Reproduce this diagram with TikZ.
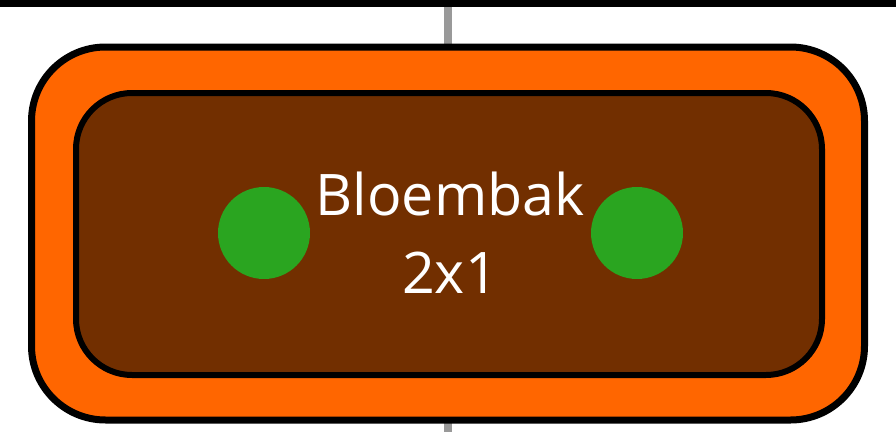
\documentclass[tikz,border=0pt]{standalone}
\usepackage{fontspec}
\setmainfont{Open Sans}
\usetikzlibrary{positioning}

\definecolor{bakorange}{HTML}{FF6600}
\definecolor{bakbrown}{HTML}{722F00}
\definecolor{plantgreen}{HTML}{2AA520}
\definecolor{pipegray}{HTML}{999999}

\begin{document}
\begin{tikzpicture}[
  x=0.75pt, y=-0.75pt,
  rim/.style={draw=black, line width=7*0.75pt, rounded corners=#1},
  plant/.style={circle, fill=plantgreen, minimum size=92*0.75pt, inner sep=0pt},
  label/.style={text=white, align=center, font=\fontsize{43}{58.5}\selectfont},
]
\useasboundingbox (0,0) rectangle (896,432);

% ---- wall and pipe ----
\fill[black] (0,0) rectangle (896,7);
\fill[pipegray] (444,7) rectangle (452,432);

% ---- planter ----
\filldraw[rim=74*0.75pt, fill=bakorange] (31.5,47) rectangle (864.5,420);
\filldraw[rim=56*0.75pt, fill=bakbrown, line width=6*0.75pt] (76,93) rectangle (822,375);

% ---- plants ----
\node[plant] (left) at (264,233) {};
\node[plant] (right) at (637,233) {};

\node[label] (name) at (450,233) {Bloembak\\2x1};
\end{tikzpicture}
\end{document}
